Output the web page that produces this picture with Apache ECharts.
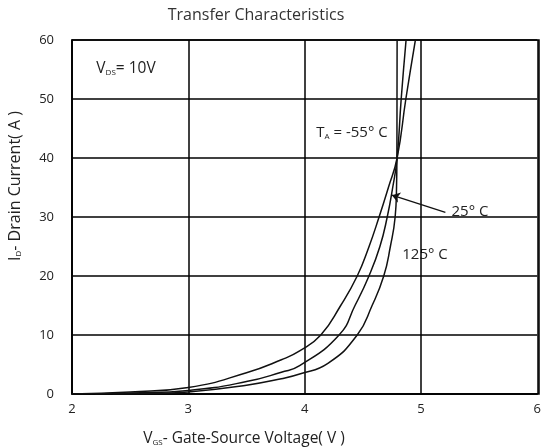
<!DOCTYPE html>
<html><head><meta charset="utf-8">
<script src="https://cdn.jsdelivr.net/npm/echarts@6/dist/echarts.min.js"></script>
<style>html,body{margin:0;padding:0;background:#fff}#c{width:544px;height:447px}</style>
</head><body><div id="c"></div>
<script>
const xTicks = [2, 3, 4, 5, 6];
const yTicks = [0, 10, 20, 30, 40, 50, 60];
// T_A = 125 C
const vgs125 = [2.0, 2.5, 3.0, 3.5, 3.8, 3.957, 4.139, 4.31, 4.452, 4.55, 4.64, 4.72, 4.795, 4.87, 4.952];
const id125  = [0.0, 0.35, 1.1, 3.6, 5.8, 7.3, 10, 15, 20, 24.8, 30, 35, 40, 50, 60];
// T_A = 25 C
const vgs25 = [2.2, 2.5, 3.0, 3.5, 3.8, 3.957, 4.296, 4.433, 4.553, 4.647, 4.71, 4.757, 4.795, 4.83, 4.872];
const id25  = [0.0, 0.15, 0.6, 2.1, 3.7, 4.8, 10, 15, 20, 25, 30, 35, 40, 50, 60];
// T_A = -55 C
const vgsM55 = [2.35, 2.7, 3.0, 3.5, 3.8, 3.957, 4.2, 4.452, 4.58, 4.68, 4.737, 4.778, 4.79, 4.793, 4.794, 4.795];
const idM55  = [0.0, 0.1, 0.35, 1.5, 2.6, 3.4, 5.2, 10, 15, 20, 25, 30, 35, 40, 50, 60];

const zip = (a, b) => a.map((v, i) => [v, b[i]]);
const FONT = 'Open Sans';
const chart = echarts.init(document.getElementById('c'));
const lineStyle = { color: '#111', width: 1.5 };
const sub = (main, s, rest, size) => ({
  text: '{a|' + main + '}{s|' + s + '}{a|' + rest + '}',
  rich: {
    a: { fontSize: size, fontFamily: FONT, fill: '#222', lineHeight: size + 4, verticalAlign: 'bottom' },
    s: { fontSize: Math.round(size * 0.5), fontFamily: FONT, fill: '#222', verticalAlign: 'bottom', lineHeight: size + 1 }
  },
  align: 'center', verticalAlign: 'middle'
});
chart.setOption({
  animation: false,
  textStyle: { fontFamily: FONT },
  grid: { left: 72, right: 5, top: 40, bottom: 53 },
  xAxis: {
    type: 'value', min: 2, max: 6, interval: 1,
    axisLine: { lineStyle: { color: '#000', width: 1.5 } },
    axisTick: { show: false },
    splitLine: { lineStyle: { color: '#000', width: 1.5 } },
    axisLabel: { color: '#222', fontSize: 13, margin: 9, fontFamily: FONT, formatter: v => String(v) }
  },
  yAxis: {
    type: 'value', min: 0, max: 60, interval: 10,
    axisLine: { show: true, lineStyle: { color: '#000', width: 1.5 } },
    axisTick: { show: false },
    splitLine: { lineStyle: { color: '#000', width: 1.5 } },
    axisLabel: { color: '#222', fontSize: 13, margin: 18, fontFamily: FONT, formatter: v => String(v) }
  },
  series: [
    { type: 'line', data: zip(vgs125, id125), smooth: 0.5, showSymbol: false, lineStyle },
    { type: 'line', data: zip(vgs25, id25), smooth: 0.5, showSymbol: false, lineStyle,
      markLine: { silent: true, symbol: ['none', 'arrow'], symbolSize: 8, label: { show: false },
        lineStyle: { color: '#111', width: 1.3, type: 'solid' },
        data: [[{ coord: [5.21, 30.8] }, { coord: [4.75, 33.7] }]] } },
    { type: 'line', data: zip(vgsM55, idM55), smooth: 0.5, showSymbol: false, lineStyle }
  ],
  graphic: [
    { type: 'rect', shape: { x: 72, y: 40, width: 467, height: 354 }, style: { fill: 'none', stroke: '#000', lineWidth: 1.5 }, silent: true },
    { type: 'text', x: 256, y: 15, style: { text: 'Transfer Characteristics', font: '16px "Open Sans"', fill: '#333', align: 'center', verticalAlign: 'middle' } },
    { type: 'text', x: 126, y: 67, style: sub('V', 'DS', '= 10V', 15.5) },
    { type: 'text', x: 352, y: 131, style: sub('T', 'A', ' = -55° C', 15) },
    { type: 'text', x: 470, y: 212, style: { text: '25° C', font: '15px "Open Sans"', fill: '#222', align: 'center', verticalAlign: 'middle' } },
    { type: 'text', x: 425, y: 255, style: { text: '125° C', font: '15px "Open Sans"', fill: '#222', align: 'center', verticalAlign: 'middle' } },
    { type: 'text', x: 244, y: 437, style: sub('V', 'GS', '- Gate-Source Voltage( V )', 15.5) },
    { type: 'text', x: 13, y: 186, rotation: Math.PI / 2, style: sub('I', 'D', '- Drain Current( A )', 16) }
  ]
});
</script></body></html>
